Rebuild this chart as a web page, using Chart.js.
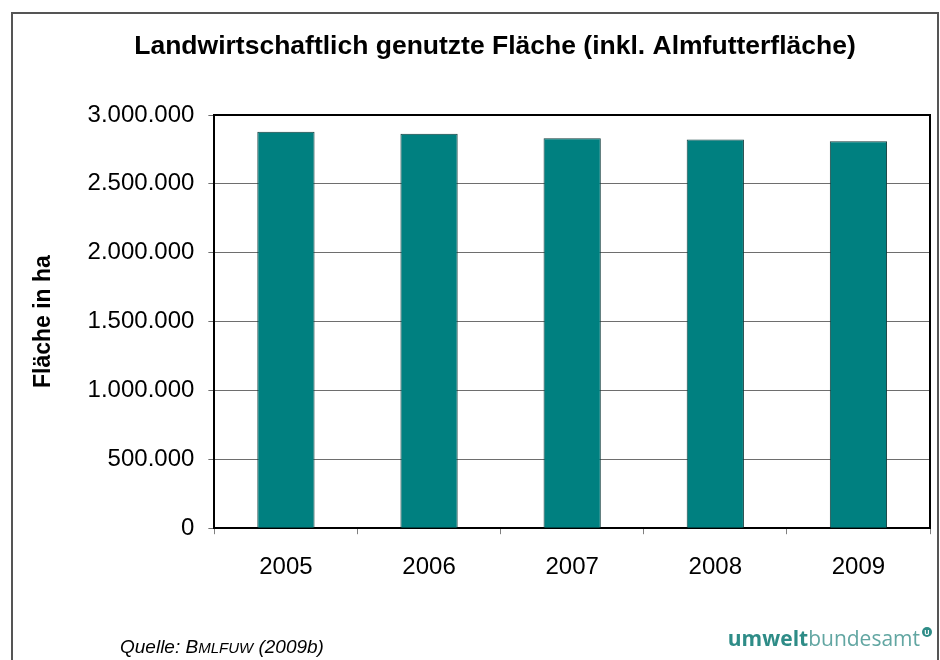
<!DOCTYPE html>
<html>
<head>
<meta charset="utf-8">
<script src="https://cdn.jsdelivr.net/npm/chart.js@4.4.1/dist/chart.umd.min.js"></script>
<style>
  html, body { margin: 0; padding: 0; background: #fff; }
  #wrap { width: 940px; height: 660px; }
</style>
</head>
<body>
<div id="wrap"><canvas id="chart" width="940" height="660"></canvas></div>
<script>
const years = ['2005', '2006', '2007', '2008', '2009'];
const flaeche = [2879000, 2864000, 2831000, 2823000, 2809000]; // ha
const yTicks = [0, 500000, 1000000, 1500000, 2000000, 2500000, 3000000];
const titleText = 'Landwirtschaftlich genutzte Fläche (inkl. Almfutterfläche)';

const fmt = v => String(v).replace(/\B(?=(\d{3})+(?!\d))/g, '.');

// title, outer frame, plot frame and footer (source + logo)
const decor = {
  id: 'decor',
  afterDraw(chart) {
    const ctx = chart.ctx;
    const a = chart.chartArea;
    ctx.save();
    // plot frame top / right
    ctx.strokeStyle = '#000';
    ctx.lineWidth = 2;
    ctx.beginPath();
    ctx.moveTo(a.left, a.top);
    ctx.lineTo(a.right, a.top);
    ctx.lineTo(a.right, a.bottom);
    ctx.stroke();

    // outer border (open at bottom)
    ctx.strokeStyle = '#555';
    ctx.lineWidth = 2;
    ctx.beginPath();
    ctx.moveTo(12, 660);
    ctx.lineTo(12, 13);
    ctx.lineTo(938, 13);
    ctx.lineTo(938, 660);
    ctx.stroke();

    // title
    ctx.fillStyle = '#000';
    ctx.font = 'bold 26.5px "Liberation Sans", Arial';
    ctx.textAlign = 'center';
    ctx.textBaseline = 'middle';
    ctx.fillText(titleText, 495, 47);

    // source line with small caps
    ctx.textAlign = 'left';
    ctx.textBaseline = 'alphabetic';
    let x = 120;
    const y = 653;
    const parts = [
      ['Quelle: B', 'italic 19px "Liberation Sans", Arial'],
      ['MLFUW', 'italic 15px "Liberation Sans", Arial'],
      [' (2009b)', 'italic 19px "Liberation Sans", Arial']
    ];
    parts.forEach(([t, f]) => {
      ctx.font = f;
      ctx.fillText(t, x, y);
      x += ctx.measureText(t).width;
    });

    // logo
    ctx.font = 'bold 21px "Open Sans"';
    const w1 = ctx.measureText('umwelt').width;
    ctx.font = '21px "Open Sans"';
    const w2 = ctx.measureText('bundesamt').width;
    const lx = 920 - w1 - w2;
    ctx.font = 'bold 21px "Open Sans"';
    ctx.fillStyle = '#2e8c87';
    ctx.fillText('umwelt', lx, 646);
    ctx.font = '21px "Open Sans"';
    ctx.fillStyle = '#62a6a2';
    ctx.fillText('bundesamt', lx + w1, 646);
    ctx.fillStyle = '#2e8c87';
    ctx.beginPath();
    ctx.arc(927, 632, 5, 0, Math.PI * 2);
    ctx.fill();
    ctx.fillStyle = '#fff';
    ctx.font = 'bold 7px "Open Sans"';
    ctx.textAlign = 'center';
    ctx.textBaseline = 'middle';
    ctx.fillText('U', 927, 632.5);
    ctx.restore();
  }
};

new Chart(document.getElementById('chart'), {
  type: 'bar',
  data: {
    labels: years,
    datasets: [{
      label: 'Fläche',
      data: flaeche,
      backgroundColor: '#008080',
      borderColor: '#123c3c',
      borderWidth: 1,
      barPercentage: 0.4,
      categoryPercentage: 1.0
    }]
  },
  options: {
    responsive: false,
    animation: false,
    layout: { padding: { left: 12, right: 10, top: 115, bottom: 59 } },
    plugins: {
      legend: { display: false },
      tooltip: { enabled: false },
      title: { display: false }
    },
    scales: {
      x: {
        grid: {
          offset: true,
          drawOnChartArea: false,
          tickLength: 6,
          color: '#808080'
        },
        border: { color: '#000', width: 2 },
        ticks: {
          color: '#000',
          padding: 19,
          font: { family: '"Liberation Sans", Arial', size: 24 }
        }
      },
      y: {
        min: 0,
        max: 3000000,
        afterBuildTicks: axis => { axis.ticks = yTicks.map(v => ({ value: v })); },
        grid: { color: '#6e6e6e', tickLength: 6 },
        border: { color: '#000', width: 2 },
        ticks: {
          color: '#000',
          padding: 14,
          font: { family: '"Liberation Sans", Arial', size: 24 },
          callback: v => fmt(v)
        },
        title: {
          display: true,
          text: 'Fläche in ha',
          color: '#000',
          font: { family: '"Liberation Sans", Arial', size: 23, weight: 'bold' },
          padding: { top: 18, bottom: 16 }
        }
      }
    }
  },
  plugins: [decor]
});
</script>
</body>
</html>
